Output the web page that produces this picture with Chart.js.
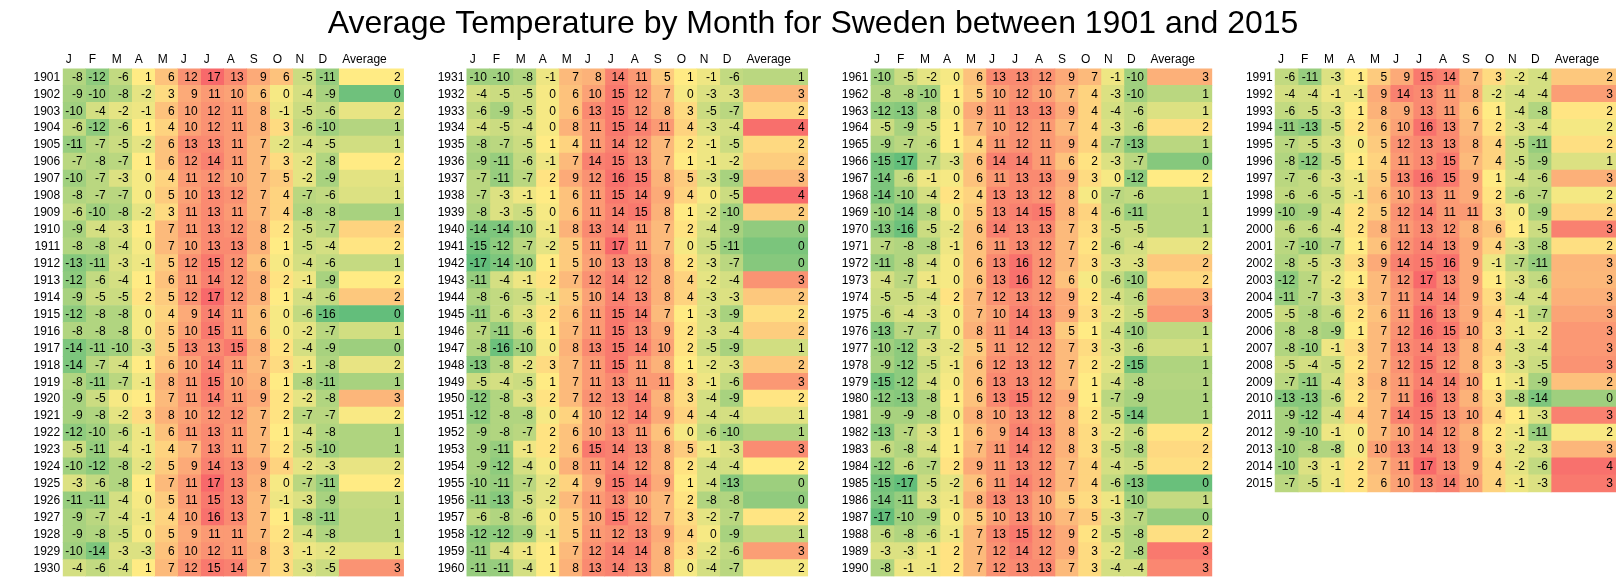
<!DOCTYPE html>
<html>
<head>
<meta charset="utf-8">
<script src="https://cdn.jsdelivr.net/npm/chart.js@4/dist/chart.umd.min.js"></script>
<style>
html,body{margin:0;padding:0;background:#fff;}
#wrap{position:relative;width:1619px;height:583px;}
</style>
</head>
<body>
<div id="wrap"><canvas id="c"></canvas></div>
<script>
const FONT = '"Liberation Sans", Arial, Helvetica, sans-serif';
const TITLE = 'Average Temperature by Month for Sweden between 1901 and 2015';
const monthLabels = ['J','F','M','A','M','J','J','A','S','O','N','D'];
const avgHeader = 'Average';

const years1 = [1901,1902,1903,1904,1905,1906,1907,1908,1909,1910,1911,1912,1913,1914,1915,1916,1917,1918,1919,1920,1921,1922,1923,1924,1925,1926,1927,1928,1929,1930];
const years2 = [1931,1932,1933,1934,1935,1936,1937,1938,1939,1940,1941,1942,1943,1944,1945,1946,1947,1948,1949,1950,1951,1952,1953,1954,1955,1956,1957,1958,1959,1960];
const years3 = [1961,1962,1963,1964,1965,1966,1967,1968,1969,1970,1971,1972,1973,1974,1975,1976,1977,1978,1979,1980,1981,1982,1983,1984,1985,1986,1987,1988,1989,1990];
const years4 = [1991,1992,1993,1994,1995,1996,1997,1998,1999,2000,2001,2002,2003,2004,2005,2006,2007,2008,2009,2010,2011,2012,2013,2014,2015];

const temps1 = [
[-8,-12,-6,1,6,12,17,13,9,6,-5,-11],
[-9,-10,-8,-2,3,9,11,10,6,0,-4,-9],
[-10,-4,-2,-1,6,10,12,11,8,-1,-5,-6],
[-6,-12,-6,1,4,10,12,11,8,3,-6,-10],
[-11,-7,-5,-2,6,13,13,11,7,-2,-4,-5],
[-7,-8,-7,1,6,12,14,11,7,3,-2,-8],
[-10,-7,-3,0,4,11,12,10,7,5,-2,-9],
[-8,-7,-7,0,5,10,13,12,7,4,-7,-6],
[-6,-10,-8,-2,3,11,13,11,7,4,-8,-8],
[-9,-4,-3,1,7,11,13,12,8,2,-5,-7],
[-8,-8,-4,0,7,10,13,13,8,1,-5,-4],
[-13,-11,-3,-1,5,12,15,12,6,0,-4,-6],
[-12,-6,-4,1,6,11,14,12,8,2,-1,-9],
[-9,-5,-5,2,5,12,17,12,8,1,-4,-6],
[-12,-8,-8,0,4,9,14,11,6,0,-6,-16],
[-8,-8,-8,0,5,10,15,11,6,0,-2,-7],
[-14,-11,-10,-3,5,13,13,15,8,2,-4,-9],
[-14,-7,-4,1,6,10,14,11,7,3,-1,-8],
[-8,-11,-7,-1,8,11,15,10,8,1,-8,-11],
[-9,-5,0,1,7,11,14,11,9,2,-2,-8],
[-9,-8,-2,3,8,10,12,12,7,2,-7,-7],
[-12,-10,-6,-1,6,11,13,11,7,1,-4,-8],
[-5,-11,-4,-1,4,7,13,11,7,2,-5,-10],
[-10,-12,-8,-2,5,9,14,13,9,4,-2,-3],
[-3,-6,-8,1,7,11,17,13,8,0,-7,-11],
[-11,-11,-4,0,5,11,15,13,7,-1,-3,-9],
[-9,-7,-4,-1,4,10,16,13,7,1,-8,-11],
[-9,-8,-5,0,5,9,11,11,7,2,-4,-8],
[-10,-14,-3,-3,6,10,12,11,8,3,-1,-2],
[-4,-6,-4,1,7,12,15,14,7,3,-3,-5]
];
const avg1 = [1.83,-0.25,1.5,0.75,1.17,1.83,1.42,1.33,0.58,2.17,1.92,1.0,1.83,2.33,-0.42,1.17,0.42,1.5,0.58,2.58,1.75,0.67,0.67,1.5,1.83,1.0,0.92,0.92,1.42,3.08];

const temps2 = [
[-10,-10,-8,-1,7,8,14,11,5,1,-1,-6],
[-4,-5,-5,0,6,10,15,12,7,0,-3,-3],
[-6,-9,-5,0,6,13,15,12,8,3,-5,-7],
[-4,-5,-4,0,8,11,15,14,11,4,-3,-4],
[-8,-7,-5,1,4,11,14,12,7,2,-1,-5],
[-9,-11,-6,-1,7,14,15,13,7,1,-1,-2],
[-7,-11,-7,2,9,12,16,15,8,5,-3,-9],
[-7,-3,-1,1,6,11,15,14,9,4,0,-5],
[-8,-3,-5,0,6,11,14,15,8,1,-2,-10],
[-14,-14,-10,-1,8,13,14,11,7,2,-4,-9],
[-15,-12,-7,-2,5,11,17,11,7,0,-5,-11],
[-17,-14,-10,1,5,10,13,13,8,2,-3,-7],
[-11,-4,-1,2,7,12,14,12,8,4,-2,-4],
[-8,-6,-5,-1,5,10,14,13,8,4,-3,-3],
[-11,-6,-3,2,6,11,15,14,7,1,-3,-9],
[-7,-11,-6,1,7,11,15,13,9,2,-3,-4],
[-8,-16,-10,0,8,13,15,14,10,2,-5,-9],
[-13,-8,-2,3,7,11,15,11,8,1,-2,-3],
[-5,-4,-5,1,7,11,13,11,11,3,-1,-6],
[-12,-8,-3,2,7,12,13,14,8,3,-4,-9],
[-12,-8,-8,0,4,10,12,14,9,4,-4,-4],
[-9,-8,-7,2,6,10,13,11,6,0,-6,-10],
[-9,-11,-1,2,6,15,14,13,8,5,-1,-3],
[-9,-12,-4,0,8,11,14,12,8,2,-4,-4],
[-10,-11,-7,-2,4,9,15,14,9,1,-4,-13],
[-11,-13,-5,-2,7,11,13,10,7,2,-8,-8],
[-6,-8,-6,0,5,10,15,12,7,3,-2,-7],
[-12,-12,-9,-1,5,11,12,13,9,4,0,-9],
[-11,-4,-1,1,7,12,14,14,8,3,-2,-6],
[-11,-11,-4,1,8,13,14,13,8,0,-4,-7]
];
const avg2 = [0.83,2.55,2.08,3.58,2.08,2.25,2.55,3.67,2.25,0.25,-0.08,0.08,3.08,2.33,2.0,2.25,1.17,2.33,3.0,1.92,1.42,0.67,3.17,1.83,0.42,0.25,1.92,0.92,2.92,1.67];

const temps3 = [
[-10,-5,-2,0,6,13,13,12,9,7,-1,-10],
[-8,-8,-10,1,5,10,12,10,7,4,-3,-10],
[-12,-13,-8,0,9,11,13,13,9,4,-4,-6],
[-5,-9,-5,1,7,10,12,11,7,4,-3,-6],
[-9,-7,-6,1,4,11,12,11,9,4,-7,-13],
[-15,-17,-7,-3,6,14,14,11,6,2,-3,-7],
[-14,-6,-1,0,6,11,13,13,9,3,0,-12],
[-14,-10,-4,2,4,13,13,12,8,0,-7,-6],
[-10,-14,-8,0,5,13,14,15,8,4,-6,-11],
[-13,-16,-5,-2,6,14,13,13,7,3,-5,-5],
[-7,-8,-8,-1,6,11,13,12,7,2,-6,-4],
[-11,-8,-4,0,6,13,16,12,7,3,-3,-3],
[-4,-7,-1,0,6,13,16,12,6,0,-6,-10],
[-5,-5,-4,2,7,12,13,12,9,2,-4,-6],
[-6,-4,-3,0,7,10,14,13,9,3,-2,-5],
[-13,-7,-7,0,8,11,14,13,5,1,-4,-10],
[-10,-12,-3,-2,5,11,12,12,7,3,-3,-6],
[-9,-12,-5,-1,6,12,13,12,7,2,-2,-15],
[-15,-12,-4,0,6,13,13,12,7,1,-4,-8],
[-12,-13,-8,1,6,13,15,12,9,1,-7,-9],
[-9,-9,-8,0,8,10,13,12,8,2,-5,-14],
[-13,-7,-3,1,6,9,14,13,8,3,-2,-6],
[-6,-8,-4,1,7,11,14,12,8,3,-5,-8],
[-12,-6,-7,2,9,11,13,12,7,4,-4,-5],
[-15,-17,-5,-2,6,11,14,12,7,4,-6,-13],
[-14,-11,-3,-1,8,13,13,10,5,3,-1,-10],
[-17,-10,-9,0,5,10,13,10,7,5,-3,-7],
[-6,-8,-6,-1,7,13,15,12,9,2,-5,-8],
[-3,-3,-1,2,7,12,14,12,9,3,-2,-8],
[-8,-1,-1,2,7,12,13,13,7,3,-4,-4]
];
const avg3 = [2.67,0.83,1.33,2.0,0.83,0.08,1.83,0.92,0.83,0.83,1.5,2.33,2.08,2.75,3.0,0.92,1.17,0.67,0.75,0.67,0.67,1.92,2.08,2.0,-0.33,1.0,0.33,2.0,3.45,3.25];

const temps4 = [
[-6,-11,-3,1,5,9,15,14,7,3,-2,-4],
[-4,-4,-1,-1,9,14,13,11,8,-2,-4,-4],
[-6,-5,-3,1,8,9,13,11,6,1,-4,-8],
[-11,-13,-5,2,6,10,16,13,7,2,-3,-4],
[-7,-5,-3,0,5,12,13,13,8,4,-5,-11],
[-8,-12,-5,1,4,11,13,15,7,4,-5,-9],
[-7,-6,-3,-1,5,13,16,15,9,1,-4,-6],
[-6,-6,-5,-1,6,10,13,11,9,2,-6,-7],
[-10,-9,-4,2,5,12,14,11,11,3,0,-9],
[-6,-6,-4,2,8,11,13,12,8,6,1,-5],
[-7,-10,-7,1,6,12,14,13,9,4,-3,-8],
[-8,-5,-3,3,9,14,15,16,9,-1,-7,-11],
[-12,-7,-2,1,7,12,17,13,9,1,-3,-6],
[-11,-7,-3,3,7,11,14,14,9,3,-4,-4],
[-5,-8,-6,2,6,11,16,13,9,4,-1,-7],
[-8,-8,-9,1,7,12,16,15,10,3,-1,-2],
[-8,-10,-1,3,7,13,14,13,8,4,-3,-4],
[-5,-4,-5,2,7,12,15,12,8,3,-3,-5],
[-7,-11,-4,3,8,11,14,14,10,1,-1,-9],
[-13,-13,-6,2,7,11,16,13,8,3,-8,-14],
[-9,-12,-4,4,7,14,15,13,10,4,1,-3],
[-9,-10,-1,0,7,10,14,12,8,2,-1,-11],
[-10,-8,-8,0,10,13,14,13,9,3,-2,-3],
[-10,-3,-1,2,7,11,17,13,9,4,-2,-6],
[-7,-5,-1,2,6,10,13,14,10,4,-1,-3]
];
const avg4 = [2.33,2.92,1.92,1.67,2.0,1.33,2.67,1.67,2.17,3.33,2.0,2.58,2.55,2.67,2.83,3.0,3.0,3.08,2.42,0.45,3.33,1.75,2.58,3.55,3.45];

const panels = [
  {years: years1, temps: temps1, avg: avg1},
  {years: years2, temps: temps2, avg: avg2},
  {years: years3, temps: temps3, avg: avg3},
  {years: years4, temps: temps4, avg: avg4}
];

// layout (grid units: one month cell = 1)
const AVG_W = 2.826;
const PITCH = 17.576;
const N_ROWS = 30;
const X_MAX = 3 * PITCH + 12 + AVG_W;

// Excel-like 3-colour scale (min green, 50th percentile yellow, max red)
function median(a){const s=[...a].sort((x,y)=>x-y);const n=s.length;return n%2?s[(n-1)/2]:(s[n/2-1]+s[n/2])/2;}
const allTemps = panels.flatMap(p => p.temps.flat());
const allAvg = panels.flatMap(p => p.avg);
const tScale = {min: Math.min(...allTemps), mid: median(allTemps), max: Math.max(...allTemps)};
const aScale = {min: Math.min(...allAvg), mid: median(allAvg), max: Math.max(...allAvg)};
const G = [99,190,123], Y = [255,235,132], R = [248,105,107];
function heat(v, s){
  let a, b, t;
  if (v <= s.mid){ a = G; b = Y; t = (v - s.min) / (s.mid - s.min); }
  else { a = Y; b = R; t = (v - s.mid) / (s.max - s.mid); }
  t = Math.max(0, Math.min(1, t));
  const c = a.map((x, i) => Math.round(x + (b[i] - x) * t));
  return 'rgb(' + c.join(',') + ')';
}

const rowLabels = years1.map((y, i) => 'r' + i);
const datasets = [];
panels.forEach((p, pi) => {
  const x0 = pi * PITCH;
  for (let c = 0; c < 13; c++){
    const isAvg = c === 12;
    const start = x0 + c, end = start + (isAvg ? AVG_W : 1);
    const data = [], colors = [], texts = [];
    for (let r = 0; r < N_ROWS; r++){
      if (r < p.years.length){
        const v = isAvg ? p.avg[r] : p.temps[r][c];
        data.push([start, end]);
        colors.push(heat(v, isAvg ? aScale : tScale));
        texts.push(isAvg ? String(Math.round(v) || 0) : String(v));
      } else {
        data.push(null); colors.push('rgba(0,0,0,0)'); texts.push('');
      }
    }
    datasets.push({data, backgroundColor: colors, cellText: texts, panel: pi, col: c,
      borderWidth: 0, barPercentage: 1, categoryPercentage: 1, grouped: false});
  }
});

const headerValues = [], headerTexts = [];
panels.forEach((p, pi) => {
  for (let c = 0; c < 12; c++){ headerValues.push(pi * PITCH + c + 0.13); headerTexts.push(monthLabels[c]); }
  headerValues.push(pi * PITCH + 12 + 0.16); headerTexts.push(avgHeader);
});

const cellText = {
  id: 'cellText',
  afterDatasetsDraw(chart){
    const ctx = chart.ctx;
    ctx.save();
    ctx.font = '12px ' + FONT;
    ctx.fillStyle = '#000';
    ctx.textBaseline = 'middle';
    ctx.textAlign = 'right';
    chart.data.datasets.forEach((ds, di) => {
      const meta = chart.getDatasetMeta(di);
      meta.data.forEach((el, i) => {
        const t = ds.cellText[i];
        if (!t) return;
        const right = Math.max(el.x, el.base);
        ctx.fillText(t, right - 3, el.y + 0.5);
        if (ds.col === 0){
          const left = Math.min(el.x, el.base);
          ctx.fillText(String(panels[ds.panel].years[i]), left - 2.5, el.y + 0.5);
        }
      });
    });
    ctx.restore();
  }
};

new Chart(document.getElementById('c'), {
  type: 'bar',
  data: {labels: rowLabels, datasets},
  plugins: [cellText],
  options: {
    indexAxis: 'y',
    responsive: true,
    maintainAspectRatio: false,
    animation: false,
    layout: {padding: {left: 10, right: 3, top: 0, bottom: 6.5}},
    plugins: {
      legend: {display: false},
      tooltip: {enabled: false},
      title: {display: true, text: TITLE, color: '#000',
        font: {family: FONT, size: 32, weight: 'normal', lineHeight: 1.2},
        padding: {top: 5, bottom: 6.6}}
    },
    scales: {
      y: {
        display: true, offset: true,
        grid: {display: false, drawTicks: false}, border: {display: false},
        ticks: {display: false},
        afterFit(scale){ scale.width = 52.7; }
      },
      x: {
        type: 'linear', position: 'top', min: 0, max: X_MAX, bounds: 'data',
        grid: {display: false, drawTicks: false}, border: {display: false},
        ticks: {autoSkip: false, maxRotation: 0, minRotation: 0, align: 'start', padding: 2,
          color: '#000', font: {family: FONT, size: 12},
          callback: (v, i) => headerTexts[i]},
        afterBuildTicks(scale){ scale.ticks = headerValues.map(v => ({value: v})); }
      }
    }
  }
});
</script>
</body>
</html>
